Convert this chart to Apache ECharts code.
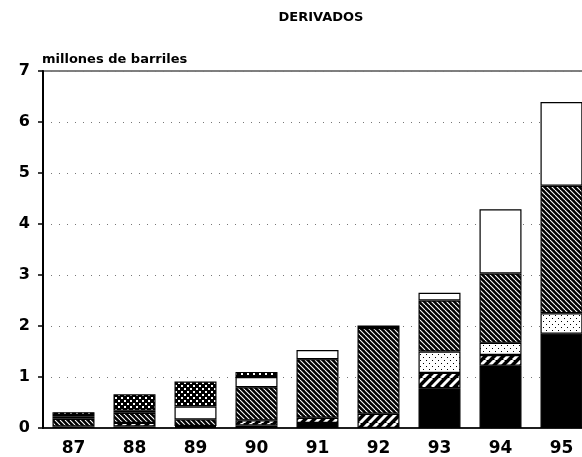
<!DOCTYPE html>
<html>
<head>
<meta charset="utf-8">
<script src="https://cdn.jsdelivr.net/npm/echarts@6/dist/echarts.min.js"></script>
<style>
  html, body { margin: 0; padding: 0; background: #fff; }
  #chart { width: 582px; height: 457px; }
</style>
</head>
<body>
<div id="chart"></div>
<script>
'use strict'

// datos en millones de barriles, de abajo hacia arriba
var years = ['87', '88', '89', '90', '91', '92', '93', '94', '95']
var negro = [0.03, 0.03, 0.02, 0.05, 0.10, 0, 0.78, 1.22, 1.85]
var rayado = [0, 0.07, 0.02, 0.10, 0.10, 0.28, 0.30, 0.21, 0]
var punteado = [0, 0, 0, 0, 0, 0, 0.42, 0.24, 0.40]
var rayadoDenso = [0.15, 0.20, 0.13, 0.65, 1.15, 1.68, 1.00, 1.36, 2.50]
var blanco = [0.05, 0.04, 0.25, 0.20, 0.18, 0.05, 0.15, 1.26, 1.64]
var puntosOscuros = [0.08, 0.32, 0.49, 0.10, 0, 0, 0, 0, 0]
var yTicks = ['0', '1', '2', '3', '4', '5', '6', '7']

// rellenos tipo trama, como en el grafico impreso
function pattern(size, draw) {
    var c = document.createElement('canvas')
    c.width = size
    c.height = size
    var ctx = c.getContext('2d')
    draw(ctx, size)
    return { image: c, repeat: 'repeat' }
}

function stripes(size, width, up) {
    return pattern(size, function (ctx, s) {
        ctx.fillStyle = '#000'
        ctx.fillRect(0, 0, s, s)
        ctx.strokeStyle = '#fff'
        ctx.lineWidth = width
        for (var k = -1; k <= 1; k++) {
            ctx.beginPath()
            if (up) {
                ctx.moveTo(k * s, s)
                ctx.lineTo(k * s + s, 0)
            } else {
                ctx.moveTo(k * s, 0)
                ctx.lineTo(k * s + s, s)
            }
            ctx.stroke()
        }
    })
}

var fills = {
    negro: '#000',
    rayado: stripes(9, 3, true),
    punteado: pattern(6, function (ctx, s) {
        ctx.fillStyle = '#fff'
        ctx.fillRect(0, 0, s, s)
        ctx.fillStyle = '#000'
        ctx.fillRect(0, 0, 1, 1)
        ctx.fillRect(3, 3, 1, 1)
    }),
    rayadoDenso: stripes(5, 1.1, false),
    blanco: '#fff',
    puntosOscuros: pattern(6, function (ctx, s) {
        ctx.fillStyle = '#000'
        ctx.fillRect(0, 0, s, s)
        ctx.fillStyle = '#fff'
        ctx.fillRect(1, 1, 2, 2)
        ctx.fillRect(4, 4, 2, 2)
    })
}

var stacks = [
    ['negro', negro],
    ['rayado', rayado],
    ['punteado', punteado],
    ['rayadoDenso', rayadoDenso],
    ['blanco', blanco],
    ['puntosOscuros', puntosOscuros]
]

var series = stacks.map(function (s) {
    return {
        name: s[0],
        type: 'bar',
        stack: 'total',
        barWidth: 42,
        data: s[1].map(function (v) { return v === 0 ? '-' : v }),
        itemStyle: {
            color: fills[s[0]],
            borderColor: '#000',
            borderWidth: 1.2
        }
    }
})

var font = 'DejaVu Sans'
var myChart = echarts.init(document.getElementById('chart'))
var option = {
    animation: false,
    title: {
        text: 'DERIVADOS',
        left: 316,
        top: 6,
        textAlign: 'center',
        textStyle: { fontFamily: font, fontWeight: 'bold', fontSize: 13, color: '#000' }
    },
    grid: {
        left: 43,
        top: 71,
        bottom: 29,
        right: -10,
        outerBoundsMode: 'none',
        containLabel: false,
        show: true,
        borderColor: '#000',
        borderWidth: 1.2
    },
    xAxis: {
        type: 'category',
        data: years,
        axisLine: { lineStyle: { color: '#000', width: 1.5 } },
        axisTick: { alignWithLabel: true, length: 7, lineStyle: { color: '#000', width: 1.5 } },
        axisLabel: { margin: 12, fontFamily: font, fontWeight: 'bold', fontSize: 17, color: '#000' }
    },
    yAxis: {
        type: 'value',
        min: 0,
        max: 7,
        interval: 1,
        name: 'millones de barriles',
        nameLocation: 'end',
        nameGap: 5,
        nameTextStyle: { align: 'left', padding: [0, 0, 0, -1], fontFamily: font, fontWeight: 'bold', fontSize: 13, color: '#000' },
        axisLine: { show: true, lineStyle: { color: '#000', width: 2 } },
        axisTick: { show: true, length: 5, lineStyle: { color: '#000', width: 1.5 } },
        axisLabel: {
            margin: 13,
            fontFamily: font,
            fontWeight: 'bold',
            fontSize: 16,
            color: '#000',
            formatter: function (v) { return yTicks[v] }
        },
        splitLine: { lineStyle: { color: '#777', width: 1, type: [1, 7] } }
    },
    series: series
}
myChart.setOption(option)
</script>
</body>
</html>
